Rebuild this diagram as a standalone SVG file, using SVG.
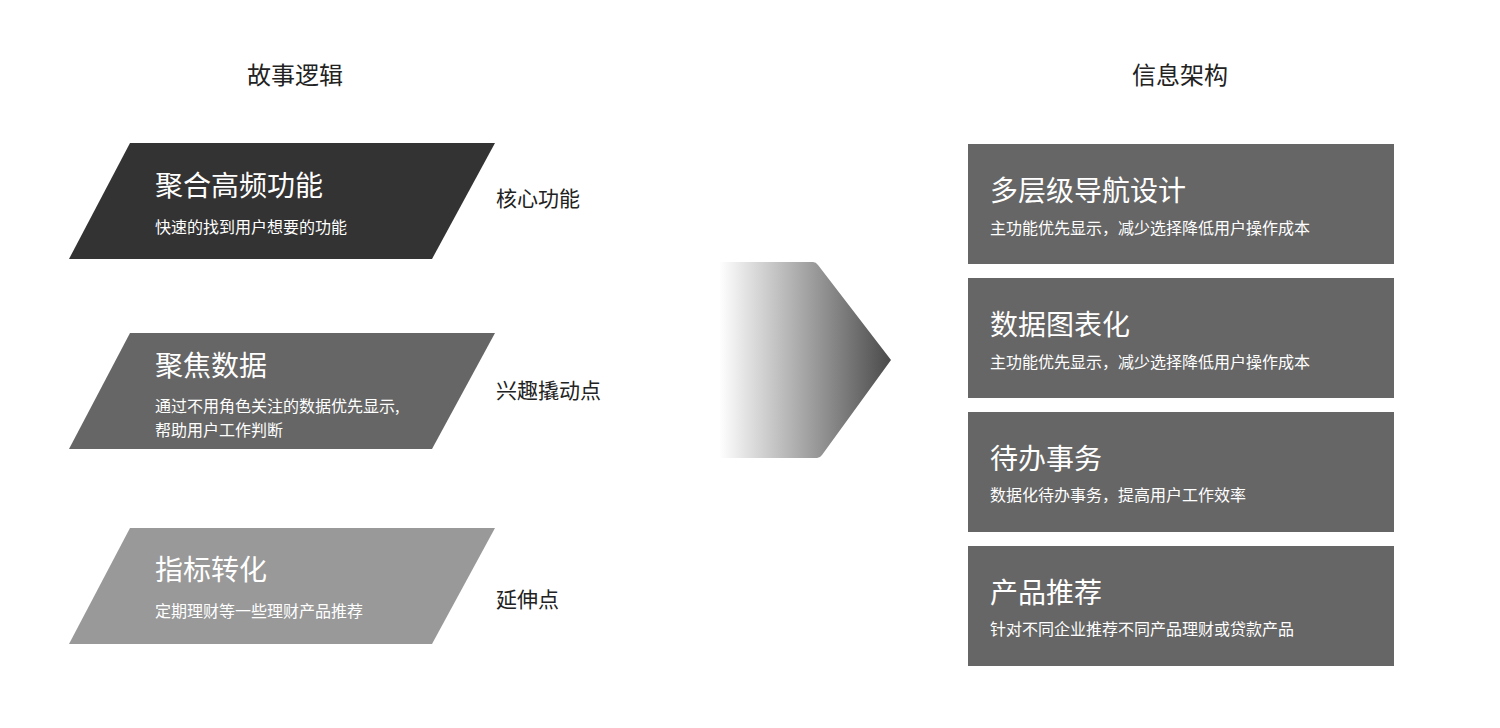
<svg xmlns="http://www.w3.org/2000/svg" width="1500" height="728" viewBox="0 0 1500 728">
<style>
text{font-family:"Noto Sans CJK SC","Noto Sans",sans-serif}
.h{font-size:24px;fill:#222}
.t{font-size:28px;fill:#fff}
.s{font-size:16px;fill:#fff}
.l{font-size:21px;fill:#222}
.box{fill:#666}
</style>
<defs><linearGradient id="g" x1="700" y1="0" x2="891" y2="0" gradientUnits="userSpaceOnUse"><stop offset="0.1" stop-color="#fff"/><stop offset="1" stop-color="#4a4a4a"/></linearGradient></defs>
<rect width="1500" height="728" fill="#fff"/>
<text class="h" x="295" y="84" text-anchor="middle">故事逻辑</text>
<text class="h" x="1180" y="84" text-anchor="middle">信息架构</text>
<g id="n1"><polygon points="130,143 495,143 432,259 69,259" fill="#333"/><text class="t" x="155" y="196">聚合高频功能</text><text class="s" x="155" y="233">快速的找到用户想要的功能</text><text class="l" x="496" y="206">核心功能</text></g>
<g id="n2"><polygon points="130,333 495,333 432,449 69,449" fill="#666"/><text class="t" x="155" y="376">聚焦数据</text><text class="s" x="155" y="412">通过不用角色关注的数据优先显示,</text><text class="s" x="155" y="436">帮助用户工作判断</text><text class="l" x="496" y="398">兴趣撬动点</text></g>
<g id="n3"><polygon points="130,528 495,528 432,644 69,644" fill="#999"/><text class="t" x="155" y="580">指标转化</text><text class="s" x="155" y="617">定期理财等一些理财产品推荐</text><text class="l" x="496" y="607">延伸点</text></g>
<g id="arrow"><path d="M700,262 H813 Q816,262 818,265 L891,360 L822,455 Q820,458 817,458 H700 Z" fill="url(#g)"/></g>
<g id="b1"><rect class="box" x="968" y="144" width="426" height="120"/><text class="t" x="990" y="201">多层级导航设计</text><text class="s" x="990" y="234">主功能优先显示，减少选择降低用户操作成本</text></g>
<g id="b2"><rect class="box" x="968" y="278" width="426" height="120"/><text class="t" x="990" y="335">数据图表化</text><text class="s" x="990" y="368">主功能优先显示，减少选择降低用户操作成本</text></g>
<g id="b3"><rect class="box" x="968" y="412" width="426" height="120"/><text class="t" x="990" y="469">待办事务</text><text class="s" x="990" y="501">数据化待办事务，提高用户工作效率</text></g>
<g id="b4"><rect class="box" x="968" y="546" width="426" height="120"/><text class="t" x="990" y="603">产品推荐</text><text class="s" x="990" y="635">针对不同企业推荐不同产品理财或贷款产品</text></g>
</svg>
